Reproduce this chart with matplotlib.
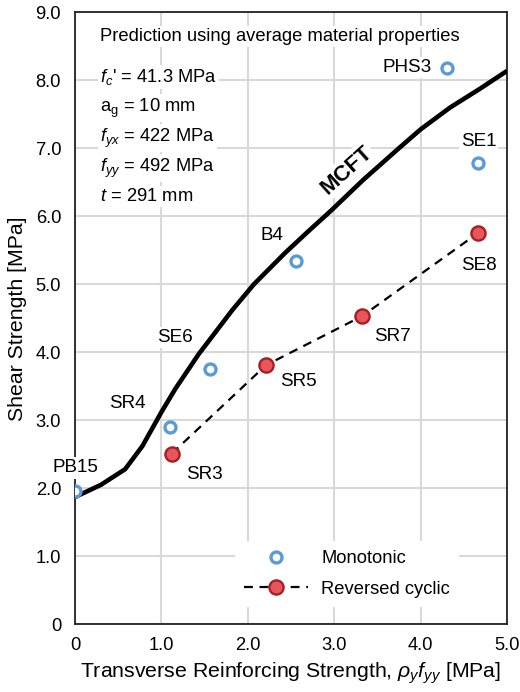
import matplotlib
matplotlib.use('Agg')
import matplotlib.pyplot as plt
from matplotlib.ticker import FuncFormatter

plt.rcParams['font.family'] = ['Liberation Sans', 'DejaVu Sans']
plt.rcParams['mathtext.fontset'] = 'custom'
plt.rcParams['mathtext.rm'] = 'Liberation Sans'
plt.rcParams['mathtext.it'] = 'Liberation Sans:italic'

# MCFT prediction curve
mcft_x = [0, 0.3, 0.58, 0.78, 1.0, 1.16, 1.43, 1.82, 2.07, 2.43, 2.70, 2.96, 3.33, 3.72,
          4.0, 4.34, 4.69, 5.0]
mcft_y = [1.87, 2.05, 2.28, 2.62, 3.12, 3.46, 3.97, 4.62, 5.0, 5.46, 5.78, 6.08, 6.53, 6.97,
          7.28, 7.6, 7.88, 8.14]

# monotonic tests
mono_names = ['PB15', 'SR4', 'SE6', 'B4', 'PHS3', 'SE1']
mono_x = [0.0, 1.10, 1.56, 2.56, 4.31, 4.67]
mono_y = [1.96, 2.90, 3.75, 5.34, 8.19, 6.78]

# reversed cyclic tests
cyc_names = ['SR3', 'SR5', 'SR7', 'SE8']
cyc_x = [1.12, 2.21, 3.32, 4.67]
cyc_y = [2.51, 3.81, 4.53, 5.76]

props = ["$f_c$' = 41.3 MPa", 'a$_\\mathrm{g}$ = 10 mm', '$f_{yx}$ = 422 MPa',
         '$f_{yy}$ = 492 MPa', '$t$ = 291 mm']

# label offsets in pixels
offsets = {'PB15': (0, 23), 'SR4': (-43, 24), 'SE6': (-35, 32), 'B4': (-24, 26),
           'PHS3': (-40, 0), 'SE1': (0, 22), 'SE8': (0, -33), 'SR7': (31, -20),
           'SR5': (32, -16), 'SR3': (33, -21)}

fig = plt.figure(figsize=(5.2, 6.92), dpi=100)
ax = fig.add_axes([0.1442, 0.098, 0.8308, 0.884])

fs = 13.2
white = dict(facecolor='white', edgecolor='none', pad=1.5)

ax.plot(mcft_x, mcft_y, color='black', lw=3.3, zorder=3, solid_capstyle='butt')
ax.plot(cyc_x, cyc_y, color='black', lw=1.6, ls=(0, (4, 3)), zorder=3,
        marker='o', ms=10.2, mfc='#e8555a', mec='#a51f23', mew=1.7, label='Reversed cyclic')
ax.plot(mono_x, mono_y, ls='none', marker='o', ms=7.9, mfc='white', mec='#5b9bd5',
        mew=2.4, zorder=4, label='Monotonic')

for n, x, y in list(zip(mono_names, mono_x, mono_y)) + list(zip(cyc_names, cyc_x, cyc_y)):
    ax.annotate(n, (x, y), xytext=offsets[n], textcoords='offset pixels',
                ha='center', va='center', fontsize=13.6, bbox=white, zorder=5)

ax.text(3.14, 6.68, 'MCFT', rotation=42, fontsize=16, fontweight='bold',
        ha='center', va='center', bbox=white, zorder=5)

ax.text(0.058, 0.954, 'Prediction using average material properties', transform=ax.transAxes,
        fontsize=fs, va='baseline', bbox=white, zorder=5)
for i, s in enumerate(props):
    ax.text(0.058, 0.887 - i * 0.049, s, transform=ax.transAxes, fontsize=fs,
            va='baseline', bbox=white, zorder=5)

ax.set_xlim(0, 5)
ax.set_ylim(0, 9)
ax.set_xticks([0, 1, 2, 3, 4, 5])
ax.set_yticks(range(10))
fmt = FuncFormatter(lambda v, p: '0' if v == 0 else '%.1f' % v)
ax.xaxis.set_major_formatter(fmt)
ax.yaxis.set_major_formatter(fmt)
ax.tick_params(length=0, labelsize=13.2)
ax.tick_params(axis='y', pad=10)
ax.tick_params(axis='x', pad=9)
ax.grid(True, color='#d9d9d9', lw=1.5, zorder=0)
ax.set_axisbelow(True)
for sp in ax.spines.values():
    sp.set_linewidth(1.3)
    sp.set_color('#222222')

ax.set_xlabel('Transverse Reinforcing Strength, $\\rho_y f_{yy}$ [MPa]', fontsize=15.3, labelpad=5)
ax.set_ylabel('Shear Strength [MPa]', fontsize=15.3, labelpad=6)

h, l = ax.get_legend_handles_labels()
leg = ax.legend(h[::-1], l[::-1], loc='center', bbox_to_anchor=(0.63, 0.082), fontsize=fs,
                handlelength=3.5, handletextpad=0.7, labelspacing=0.75, fancybox=False,
                framealpha=1, edgecolor='none', borderpad=0.5)
leg.set_zorder(6)

fig.savefig('out.png', dpi=100)
